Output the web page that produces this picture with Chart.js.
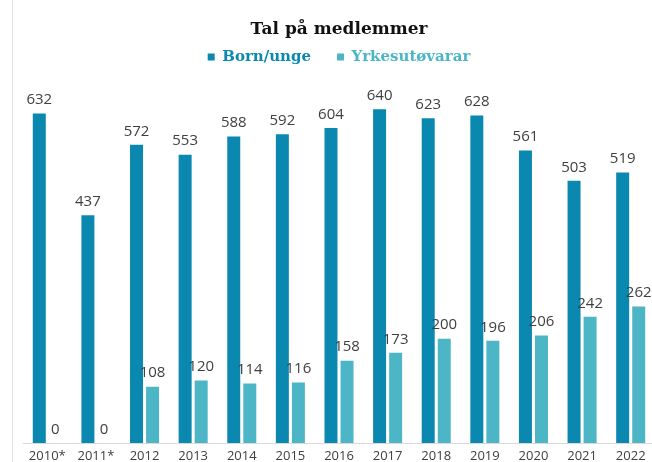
<!DOCTYPE html>
<html>
<head>
<meta charset="utf-8">
<script src="https://cdn.jsdelivr.net/npm/chart.js@4/dist/chart.umd.min.js"></script>
<style>
  html, body { margin: 0; padding: 0; background: #fff; }
  #wrap { position: relative; width: 652px; height: 462px; overflow: hidden; border-left: 1px solid #e0e0e0; box-sizing: border-box; margin-left: 12px; }
  #box { width: 660px; height: 462px; margin-left: -13px; }
</style>
</head>
<body>
<div id="wrap"><div id="box"><canvas id="members"></canvas></div></div>
<script>
const years = ["2010*", "2011*", "2012", "2013", "2014", "2015", "2016", "2017", "2018", "2019", "2020", "2021", "2022"];
const bornUnge = [632, 437, 572, 553, 588, 592, 604, 640, 623, 628, 561, 503, 519];
const yrkesutovarar = [0, 0, 108, 120, 114, 116, 158, 173, 200, 196, 206, 242, 262];

const darkBlue = "#0b88b0";
const lightBlue = "#4db6c6";

// value labels above each bar
const valueLabels = {
  id: "valueLabels",
  afterDatasetsDraw(chart) {
    const ctx = chart.ctx;
    ctx.save();
    ctx.font = "15px 'Open Sans'";
    ctx.fillStyle = "#404040";
    ctx.textAlign = "center";
    ctx.textBaseline = "bottom";
    chart.data.datasets.forEach((ds, i) => {
      chart.getDatasetMeta(i).data.forEach((bar, j) => {
        ctx.fillText(ds.data[j], bar.x, bar.y - 6);
      });
    });
    ctx.restore();
  },
};

const ctx = document.getElementById("members").getContext("2d");
new Chart(ctx, {
  type: "bar",
  data: {
    labels: years,
    datasets: [
      { label: "Born/unge", data: bornUnge, backgroundColor: darkBlue },
      { label: "Yrkesutøvarar", data: yrkesutovarar, backgroundColor: lightBlue },
    ],
  },
  options: {
    responsive: true,
    maintainAspectRatio: false,
    animation: false,
    categoryPercentage: 0.66,
    barPercentage: 0.81,
    layout: { padding: { left: 23, right: 5, top: 8, bottom: -8 } },
    scales: {
      x: {
        grid: { display: false, drawTicks: false },
        border: { color: "#d9d9d9" },
        ticks: {
          color: "#404040",
          font: { family: "'Open Sans'", size: 13, lineHeight: 1 },
          padding: 7,
          maxRotation: 0,
        },
      },
      y: {
        display: false,
        min: 0,
        max: 707,
      },
    },
    plugins: {
      title: {
        display: true,
        text: "Tal på medlemmer",
        color: "#111",
        font: { family: "'DejaVu Serif'", size: 17, weight: "bold" },
        padding: { top: 11, bottom: -16 },
      },
      legend: {
        labels: {
          usePointStyle: true,
          pointStyle: "rect",
          boxWidth: 7,
          boxHeight: 7,
          padding: 26,
          font: { family: "'DejaVu Serif'", size: 15, weight: "bold" },
          generateLabels(chart) {
            return chart.data.datasets.map((ds, i) => ({
              text: ds.label,
              fillStyle: ds.backgroundColor,
              strokeStyle: ds.backgroundColor,
              fontColor: ds.backgroundColor,
              lineWidth: 0,
              pointStyle: "rect",
              datasetIndex: i,
              hidden: false,
            }));
          },
        },
      },
      tooltip: { enabled: false },
    },
  },
  plugins: [valueLabels],
});
</script>
</body>
</html>
